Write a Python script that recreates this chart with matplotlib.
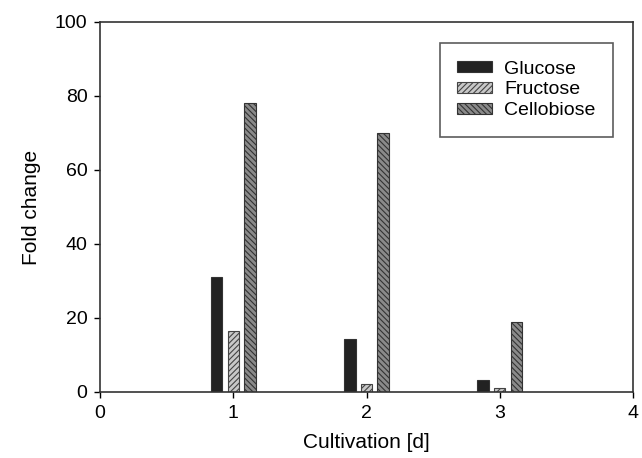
import numpy as np
import matplotlib
matplotlib.use("Agg")
import matplotlib.pyplot as plt

plt.rcParams['font.family'] = ['Liberation Sans', 'DejaVu Sans']
plt.rcParams['hatch.linewidth'] = 0.8

days = [1, 2, 3]
glucose = [31, 14.2, 3.3]
fructose = [16.4, 2.1, 1.0]
cellobiose = [78.2, 70, 19]

fig = plt.figure(figsize=(6.42, 4.58), dpi=100)
ax = fig.add_axes([100 / 642, 1 - 392 / 458, 533 / 642, 370 / 458])

x = np.array(days)
w = 0.085
off = 0.125
ax.bar(x - off, glucose, w, color='#222222', edgecolor='#333333', linewidth=0.8, label='Glucose')
ax.bar(x, fructose, w, color='#c8c8c8', edgecolor='#444444', hatch='//////', linewidth=0.8, label='Fructose')
ax.bar(x + off, cellobiose, w, color='#8a8a8a', edgecolor='#333333', hatch='\\\\\\\\\\\\', linewidth=0.8, label='Cellobiose')

ax.set_xlim(0, 4)
ax.set_ylim(0, 100)
ax.set_xticks([0, 1, 2, 3, 4])
ax.set_yticks([0, 20, 40, 60, 80, 100])
ax.tick_params(labelsize=14, length=4, width=1, direction='out', pad=5)
for s in ax.spines.values():
    s.set_linewidth(1.2)
    s.set_color('#333333')
ax.set_xlabel('Cultivation [d]', fontsize=15, labelpad=8)
ax.set_ylabel('Fold change', fontsize=15, labelpad=10)

leg = ax.legend(loc='upper right', bbox_to_anchor=(0.9625, 0.943), borderaxespad=0, fontsize=14,
                frameon=True, fancybox=False, edgecolor='#333333', handlelength=1.8, handleheight=0.5,
                borderpad=0.9, labelspacing=0.2, handletextpad=0.6)
leg.get_frame().set_linewidth(1.2)

fig.savefig('out.png', dpi=100)
